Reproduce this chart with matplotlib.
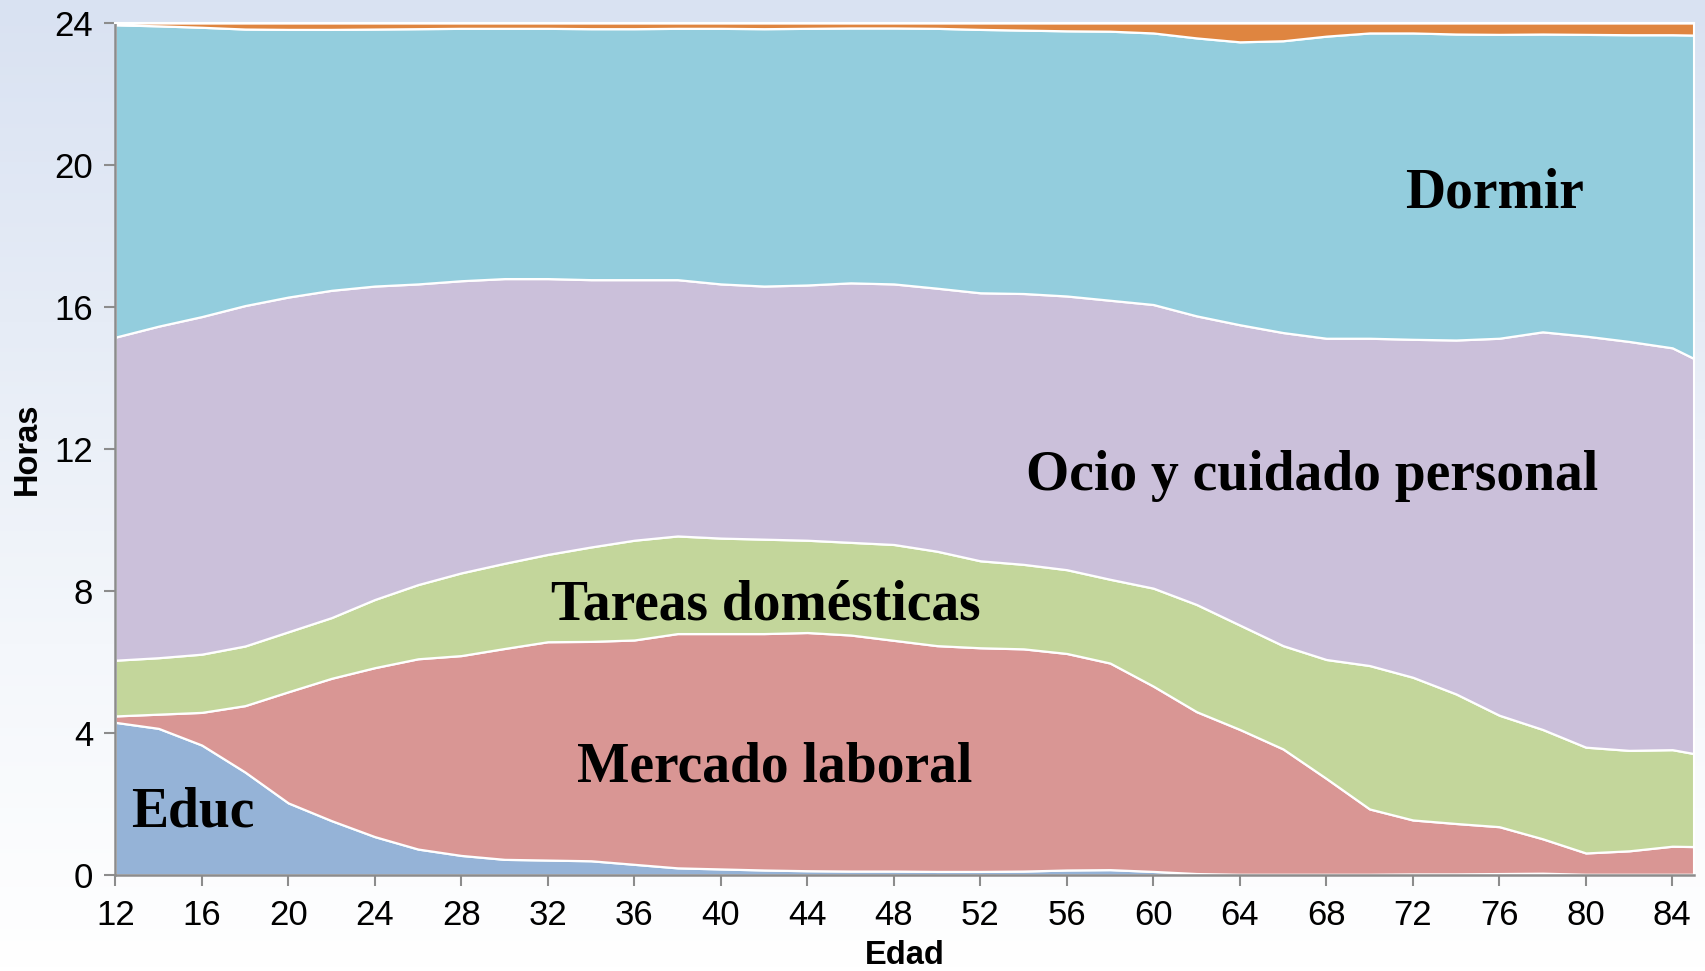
import numpy as np
import matplotlib
matplotlib.use("Agg")
import matplotlib.pyplot as plt
from matplotlib.colors import LinearSegmentedColormap

# ---------------- data (hours per day by age) ----------------
edad = [12, 14, 16, 18, 20, 22, 24, 26, 28, 30, 32, 34, 36, 38, 40, 42, 44, 46, 48,
        50, 52, 54, 56, 58, 60, 62, 64, 66, 68, 70, 72, 74, 76, 78, 80, 82, 84, 85]

educ = [4.30, 4.13, 3.66, 2.90, 2.03, 1.53, 1.08, 0.73, 0.55, 0.44, 0.42, 0.40, 0.30,
        0.20, 0.17, 0.14, 0.12, 0.11, 0.11, 0.10, 0.10, 0.11, 0.14, 0.15, 0.10, 0.04,
        0.02, 0.02, 0.02, 0.02, 0.03, 0.03, 0.04, 0.05, 0.02, 0.02, 0.02, 0.02]

mercado = [0.18, 0.40, 0.92, 1.87, 3.13, 4.01, 4.76, 5.36, 5.63, 5.94, 6.15, 6.18, 6.32,
           6.60, 6.63, 6.66, 6.71, 6.65, 6.50, 6.36, 6.30, 6.26, 6.10, 5.82, 5.22, 4.56,
           4.08, 3.53, 2.70, 1.84, 1.52, 1.42, 1.32, 0.97, 0.60, 0.66, 0.79, 0.78]

tareas = [1.57, 1.59, 1.64, 1.68, 1.69, 1.71, 1.92, 2.09, 2.33, 2.40, 2.46, 2.66, 2.81,
          2.75, 2.69, 2.66, 2.60, 2.61, 2.70, 2.66, 2.45, 2.38, 2.36, 2.36, 2.76, 3.02,
          2.94, 2.91, 3.35, 4.04, 4.02, 3.65, 3.14, 3.08, 2.98, 2.83, 2.72, 2.62]

ocio = [9.10, 9.34, 9.51, 9.59, 9.43, 9.22, 8.83, 8.47, 8.23, 8.02, 7.77, 7.53, 7.34,
        7.22, 7.16, 7.13, 7.19, 7.31, 7.34, 7.41, 7.55, 7.63, 7.71, 7.86, 7.99, 8.13,
        8.46, 8.82, 9.05, 9.22, 9.52, 9.97, 10.62, 11.20, 11.58, 11.52, 11.32, 11.13]

dormir = [8.80, 8.46, 8.15, 7.79, 7.54, 7.35, 7.24, 7.19, 7.11, 7.05, 7.05, 7.07, 7.07,
          7.08, 7.20, 7.25, 7.23, 7.18, 7.21, 7.32, 7.42, 7.42, 7.47, 7.58, 7.65, 7.83,
          7.97, 8.22, 8.51, 8.60, 8.63, 8.62, 8.56, 8.39, 8.50, 8.64, 8.82, 9.11]

otros = [0.05, 0.08, 0.12, 0.17, 0.18, 0.18, 0.17, 0.16, 0.15, 0.15, 0.15, 0.16, 0.16,
         0.15, 0.15, 0.16, 0.15, 0.14, 0.14, 0.15, 0.18, 0.20, 0.22, 0.23, 0.28, 0.42,
         0.53, 0.50, 0.37, 0.28, 0.28, 0.31, 0.32, 0.31, 0.32, 0.33, 0.33, 0.34]

series_labels = ["Educ", "Mercado laboral", "Tareas domésticas",
                 "Ocio y cuidado personal", "Dormir", "Otros"]
colors = ["#95B3D7", "#D99694", "#C3D69B", "#CBC0DA", "#93CDDD", "#DF8540"]
y_ticks = [0, 4, 8, 12, 16, 20, 24]
x_ticks = list(range(12, 85, 4))

# ---------------- figure ----------------
fig = plt.figure(figsize=(17.05, 9.71), dpi=100)

# slide-like background gradient
bg = fig.add_axes([0, 0, 1, 1], zorder=-10)
grad = np.linspace(0, 1, 256).reshape(-1, 1)
cmap = LinearSegmentedColormap.from_list("bg", ["#D9E2F2", "#E6ECF6", "#F4F7FB", "#FFFFFF"])
bg.imshow(grad, aspect="auto", cmap=cmap, extent=[0, 1, 0, 1], origin="upper")
bg.axis("off")

ax = fig.add_axes([0.0676, 0.0989, 0.9259, 0.8774])
ax.stackplot(edad, educ, mercado, tareas, ocio, dormir, otros,
             colors=colors, labels=series_labels,
             edgecolor="white", linewidth=1.6)

ax.set_xlim(12, 85)
ax.set_ylim(0, 24)
ax.set_xticks(x_ticks)
ax.set_yticks(y_ticks)
ax.tick_params(axis="both", direction="out", length=8, width=1.5, color="#8C8C8C",
               labelsize=25)
ax.tick_params(axis="y", pad=8)
ax.tick_params(axis="x", pad=9)
for s in ["left", "bottom"]:
    ax.spines[s].set_color("#8C8C8C")
    ax.spines[s].set_linewidth(1.8)
for s in ["top", "right"]:
    ax.spines[s].set_color("white")
    ax.spines[s].set_linewidth(1.5)
ax.set_facecolor("none")

ax.set_xlabel("Edad", fontsize=23.5, fontweight="bold", family="Liberation Sans", labelpad=6)
ax.set_ylabel("Horas", fontsize=23.5, fontweight="bold", family="Liberation Sans", labelpad=8)
for lab in ax.get_xticklabels() + ax.get_yticklabels():
    lab.set_family("Liberation Sans")

# in-chart labels
lab_font = dict(family="Liberation Serif", fontweight="bold", fontsize=40,
                color="black", ha="center", va="center")
ax.text(75.8, 19.2, "Dormir", **lab_font)
ax.text(67.35, 11.25, "Ocio y cuidado personal", **lab_font)
ax.text(42.1, 7.6, "Tareas domésticas", **lab_font)
ax.text(42.5, 3.03, "Mercado laboral", **lab_font)
ax.text(15.6, 1.77, "Educ", **lab_font)

fig.savefig("out.png", dpi=100)
